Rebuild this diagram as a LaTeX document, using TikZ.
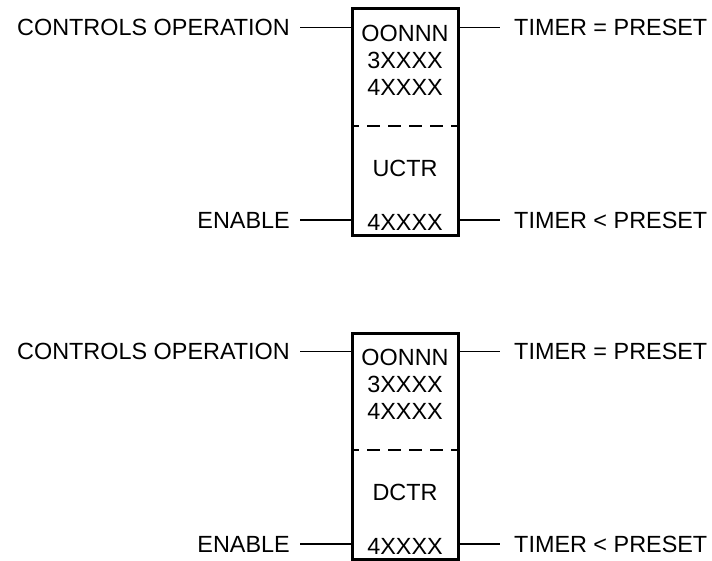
\documentclass[tikz,border=0pt]{standalone}
\usepackage{fontspec}
\setmainfont{Liberation Sans}
\usepackage{tikz}
\usetikzlibrary{positioning}

\tikzset{
  unit/.style={draw, line width=3pt, minimum width=106pt, minimum height=226.5pt, inner sep=0pt},
  lbl/.style={inner sep=0pt, font=\fontsize{23.4}{27}\selectfont},
  lead/.style={line width=1.5pt},
  divider/.style={line width=1.5pt, dash pattern=on 13pt off 8pt, dash phase=6pt}
}

\begin{document}
\begin{tikzpicture}[x=1pt, y=-1pt]
  \useasboundingbox (0,0) rectangle (712,561);

  % up counter
  \node[unit] (boxA) at (405,122.25) {};
  \coordinate (splitA) at (352,126);
  \draw[divider] (splitA) -- (splitA -| boxA.east);
  \node[lbl, align=center] (regA) at (405,60.5) {OONNN\\3XXXX\\4XXXX};
  \node[lbl] (fnA) at (405,168.5) {UCTR};
  \node[lbl] (accA) at (405,222) {4XXXX};

  \node[lbl, anchor=east] (ctrlA) at (290,27.5) {CONTROLS OPERATION};
  \node[lbl, anchor=east] (enA) at (290,220) {ENABLE};
  \node[lbl, anchor=west] (eqA) at (514,27.5) {TIMER = PRESET};
  \node[lbl, anchor=west] (ltA) at (514,220) {TIMER < PRESET};

  \draw[lead] ([xshift=10pt]ctrlA.east) -- (ctrlA.east -| boxA.west);
  \draw[lead] ([xshift=10pt]enA.east) -- (enA.east -| boxA.west);
  \draw[lead] (eqA.west -| boxA.east) -- ([xshift=-14pt]eqA.west);
  \draw[lead] (ltA.west -| boxA.east) -- ([xshift=-14pt]ltA.west);

  % down counter
  \node[unit] (boxB) at (405,446.25) {};
  \coordinate (splitB) at (352,450);
  \draw[divider] (splitB) -- (splitB -| boxB.east);
  \node[lbl, align=center] (regB) at (405,384.5) {OONNN\\3XXXX\\4XXXX};
  \node[lbl] (fnB) at (405,492.5) {DCTR};
  \node[lbl] (accB) at (405,546) {4XXXX};

  \node[lbl, anchor=east] (ctrlB) at (290,351.5) {CONTROLS OPERATION};
  \node[lbl, anchor=east] (enB) at (290,544) {ENABLE};
  \node[lbl, anchor=west] (eqB) at (514,351.5) {TIMER = PRESET};
  \node[lbl, anchor=west] (ltB) at (514,544) {TIMER < PRESET};

  \draw[lead] ([xshift=10pt]ctrlB.east) -- (ctrlB.east -| boxB.west);
  \draw[lead] ([xshift=10pt]enB.east) -- (enB.east -| boxB.west);
  \draw[lead] (eqB.west -| boxB.east) -- ([xshift=-14pt]eqB.west);
  \draw[lead] (ltB.west -| boxB.east) -- ([xshift=-14pt]ltB.west);
\end{tikzpicture}
\end{document}
